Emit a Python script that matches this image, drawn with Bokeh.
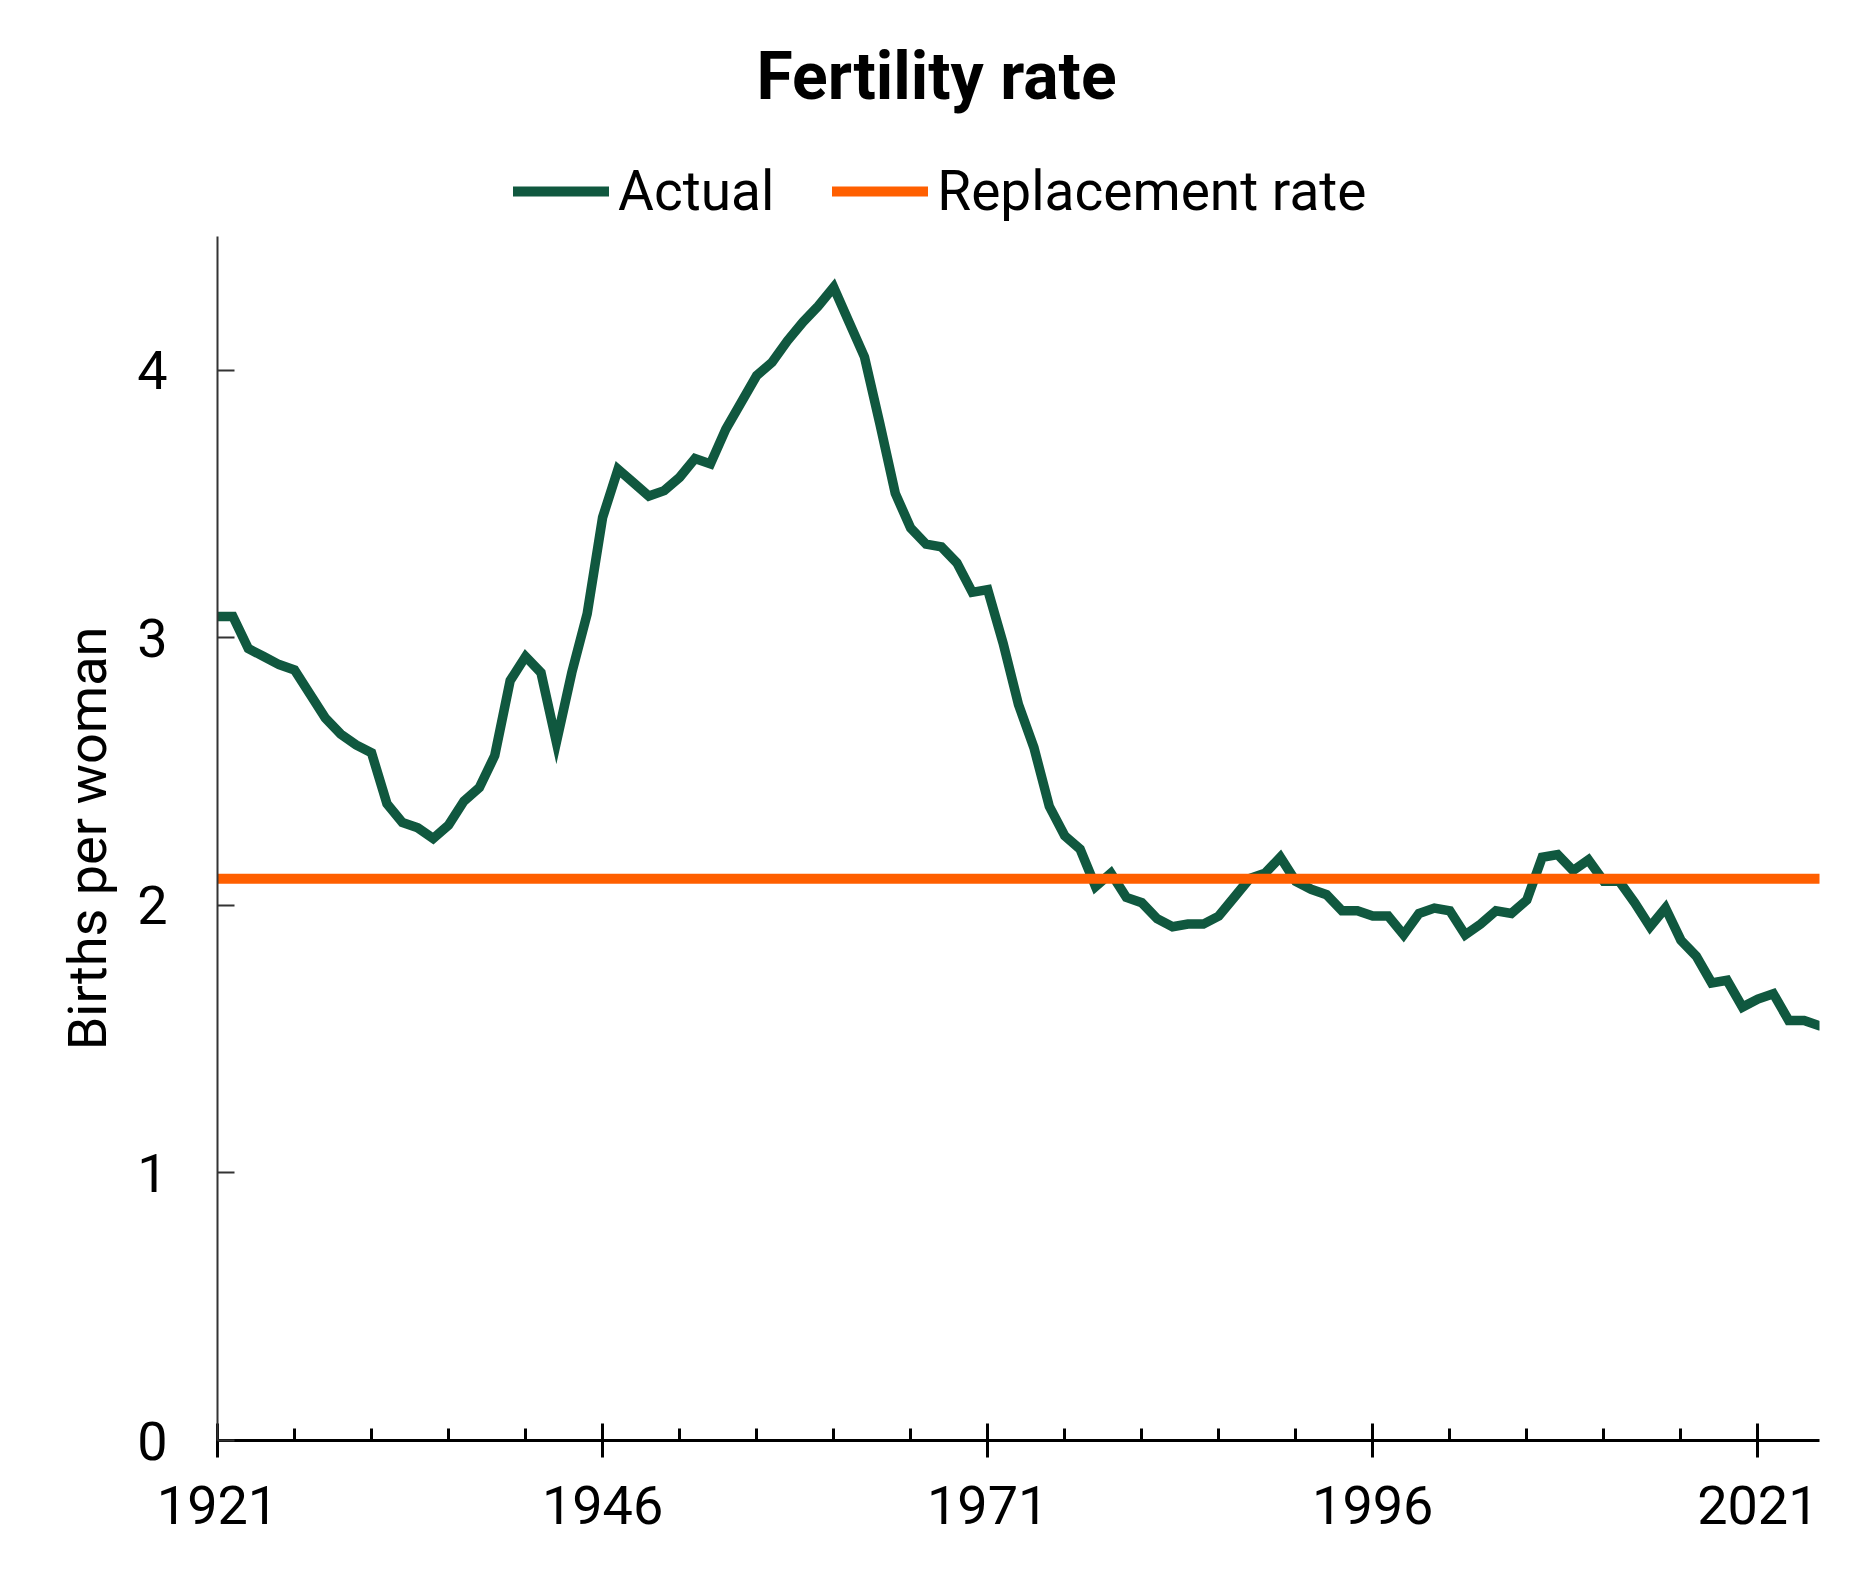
from bokeh.plotting import figure
from bokeh.layouts import column
from bokeh.models import Range1d, FixedTicker, Legend, LegendItem, Title
from bokeh.embed import file_html
from bokeh.resources import INLINE

# ---- data ----
years = list(range(1921, 2026))
fertility = [
    3.08, 3.08, 2.96, 2.93, 2.90, 2.88, 2.79, 2.70, 2.64, 2.60,   # 1921-1930
    2.57, 2.38, 2.31, 2.29, 2.25, 2.30, 2.39, 2.44, 2.56, 2.84,   # 1931-1940
    2.93, 2.87, 2.61, 2.87, 3.09, 3.45, 3.63, 3.58, 3.53, 3.55,   # 1941-1950
    3.60, 3.67, 3.65, 3.78, 3.88, 3.98, 4.03, 4.11, 4.18, 4.24,   # 1951-1960
    4.31, 4.18, 4.05, 3.80, 3.54, 3.41, 3.35, 3.34, 3.28, 3.17,   # 1961-1970
    3.18, 2.98, 2.75, 2.59, 2.37, 2.26, 2.21, 2.07, 2.12, 2.03,   # 1971-1980
    2.01, 1.95, 1.92, 1.93, 1.93, 1.96, 2.03, 2.10, 2.12, 2.18,   # 1981-1990
    2.09, 2.06, 2.04, 1.98, 1.98, 1.96, 1.96, 1.89, 1.97, 1.99,   # 1991-2000
    1.98, 1.89, 1.93, 1.98, 1.97, 2.02, 2.18, 2.19, 2.13, 2.17,   # 2001-2010
    2.09, 2.09, 2.01, 1.92, 1.99, 1.87, 1.81, 1.71, 1.72, 1.62,   # 2011-2020
    1.65, 1.67, 1.57, 1.57, 1.55,                                 # 2021-2025
]
replacement_rate = 2.1
series_names = ["Actual", "Replacement rate"]
x_major_ticks = [1921, 1946, 1971, 1996, 2021]
x_minor_ticks = [y for y in range(1926, 2025, 5) if y not in x_major_ticks]
y_ticks = [0, 1, 2, 3, 4]

GREEN = "#10583F"
ORANGE = "#FF5F00"
FONT = "Roboto"

W = 1853
FL, FR, FB = 217, 1819, 1440
FT = FB - round(4.5 * 267.5)          # frame top in page pixels (236)
HEAD_H = FT
MAIN_H = 1554 - HEAD_H

# ---- header: title + legend ----
head = figure(width=W, height=HEAD_H, output_backend="svg", toolbar_location=None,
              x_range=Range1d(0, 1), y_range=Range1d(0, 1),
              min_border_left=FL, min_border_right=W - FR,
              min_border_top=0, min_border_bottom=0)
head.xaxis.visible = False
head.yaxis.visible = False
head.xgrid.visible = False
head.ygrid.visible = False
head.outline_line_color = None
head.background_fill_color = "white"
head.border_fill_color = "white"
head.title = Title(text="Fertility rate", align="left", offset=539, standoff=71,
                   text_font=FONT, text_font_style="bold", text_font_size="66px",
                   text_color="black")
# legend-only renderers (their single point lies outside the header's range)
k_act = head.line([-10], [-10], line_width=10, color=GREEN, line_cap="round")
k_rep = head.line([-10], [-10], line_width=10, color=ORANGE, line_cap="round")
legend = Legend(items=[LegendItem(label=series_names[0], renderers=[k_act]),
                       LegendItem(label=series_names[1], renderers=[k_rep])],
                orientation="horizontal", location=(296, 13),
                padding=0, margin=0, spacing=58,
                glyph_width=96, glyph_height=64, label_height=64,
                label_standoff=9,
                label_text_font=FONT, label_text_font_size="55px",
                label_text_color="black",
                border_line_color=None, background_fill_alpha=0)
head.add_layout(legend, "center")

# ---- main chart ----
p = figure(width=W, height=MAIN_H, output_backend="svg", toolbar_location=None,
           x_range=Range1d(1921, 2025), y_range=Range1d(0, 4.5),
           min_border_left=FL, min_border_right=W - FR,
           min_border_top=0, min_border_bottom=MAIN_H - (FB - HEAD_H))
p.outline_line_color = None
p.xgrid.visible = False
p.ygrid.visible = False
p.background_fill_color = "white"
p.border_fill_color = "white"

p.line(years, fertility, line_width=9.5, color=GREEN,
       line_join="miter", line_cap="round")
p.line([years[0], years[-1]], [replacement_rate, replacement_rate],
       line_width=10, color=ORANGE, line_cap="round")

# x axis
xa = p.xaxis[0]
xa.ticker = FixedTicker(ticks=x_major_ticks, minor_ticks=x_minor_ticks)
xa.axis_line_color = "black"
xa.axis_line_width = 3
xa.major_tick_line_color = "black"
xa.major_tick_line_width = 3
xa.major_tick_in = 17
xa.major_tick_out = 17
xa.minor_tick_line_color = "black"
xa.minor_tick_line_width = 3
xa.minor_tick_in = 12
xa.minor_tick_out = 0
xa.major_label_text_font = FONT
xa.major_label_text_font_size = "54px"
xa.major_label_text_color = "black"
xa.major_label_standoff = 28

# y axis
ya = p.yaxis[0]
ya.ticker = FixedTicker(ticks=y_ticks, minor_ticks=[])
ya.axis_line_color = "#333333"
ya.axis_line_width = 2
ya.major_tick_line_color = "#333333"
ya.major_tick_line_width = 2
ya.major_tick_in = 17
ya.major_tick_out = 0
ya.minor_tick_in = 0
ya.minor_tick_out = 0
ya.major_label_text_font = FONT
ya.major_label_text_font_size = "54px"
ya.major_label_text_color = "black"
ya.major_label_standoff = 50
ya.axis_label = "Births per woman"
ya.axis_label_text_font = FONT
ya.axis_label_text_font_style = "normal"
ya.axis_label_text_font_size = "54px"
ya.axis_label_text_color = "black"
ya.axis_label_standoff = 15

layout = column(head, p, spacing=0)
open("out.html", "w").write(file_html(layout, INLINE))
